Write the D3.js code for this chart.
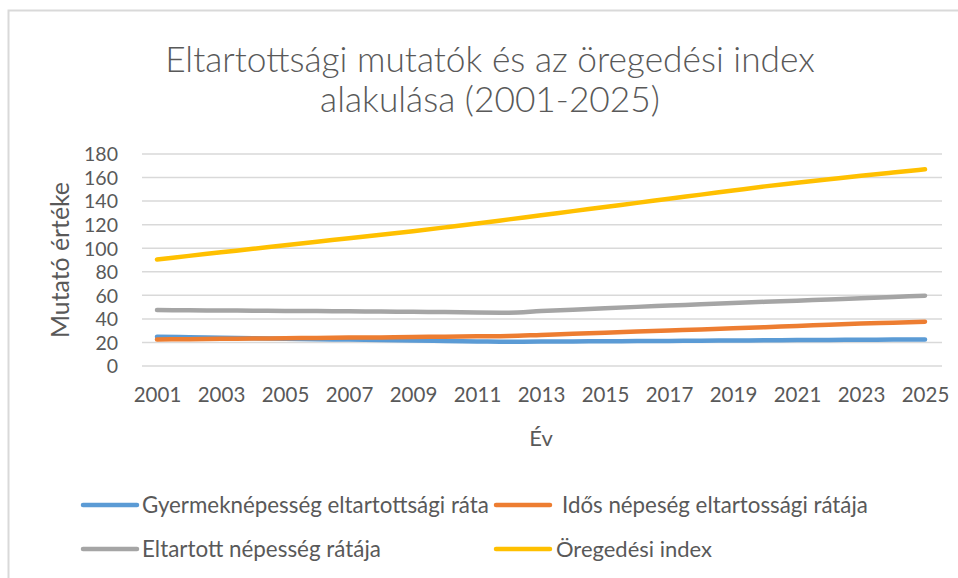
<!DOCTYPE html>
<html>
<head>
<meta charset="utf-8">
<script src="https://cdn.jsdelivr.net/npm/d3@7"></script>
<style>
  html, body { margin: 0; padding: 0; background: #fff; }
  svg { display: block; }
  text { font-family: Lato, "Open Sans", sans-serif; fill: #595959; }
</style>
</head>
<body>
<svg id="chart" width="958" height="578"></svg>
<script>
const years = [2001,2002,2003,2004,2005,2006,2007,2008,2009,2010,2011,2012,2013,2014,2015,2016,2017,2018,2019,2020,2021,2022,2023,2024,2025];
const gyermek = [24.9,24.4,24.0,23.6,23.2,22.8,22.4,22.0,21.6,21.2,20.9,20.6,20.7,20.9,21.0,21.2,21.3,21.5,21.7,21.8,22.0,22.1,22.3,22.4,22.6];
const idos = [22.6,22.8,23.1,23.3,23.6,23.8,24.1,24.3,24.6,24.9,25.2,25.5,26.4,27.3,28.3,29.2,30.1,31.0,32.0,33.0,34.0,35.0,36.0,36.8,37.6];
const eltartott = [47.5,47.3,47.1,47.0,46.8,46.6,46.4,46.2,46.0,45.8,45.5,45.3,46.6,47.8,49.0,50.2,51.3,52.4,53.5,54.5,55.5,56.5,57.5,58.6,59.7];
const oregedesi = [90.5,93.5,96.5,99.5,102.5,105.5,108.5,111.5,114.5,117.7,121.0,124.5,128.0,131.5,135.0,138.5,142.0,145.5,149.0,152.5,155.5,158.5,161.5,164.3,167.0];
const yTicks = [0,20,40,60,80,100,120,140,160,180];
const xTickYears = [2001,2003,2005,2007,2009,2011,2013,2015,2017,2019,2021,2023,2025];
const seriesNames = ["Gyermeknépesség eltartottsági ráta","Idős népeség eltartossági rátája","Eltartott népesség rátája","Öregedési index"];
const seriesColors = ["#5B9BD5","#ED7D31","#A5A5A5","#FFC000"];
const titleLines = ["Eltartottsági mutatók és az öregedési index","alakulása (2001-2025)"];
const yLabel = "Mutató értéke";
const xLabel = "Év";

const svg = d3.select("#chart");

function fit(sel, targetW, startSize) {
  sel.style("font-size", startSize + "px");
  const w = sel.node().getComputedTextLength();
  sel.style("font-size", (startSize * targetW / w).toFixed(2) + "px");
}

// Chart border
svg.append("path").attr("d", "M8.5,578 L8.5,10.5 L958,10.5")
  .attr("fill", "none").attr("stroke", "#D9D9D9").attr("stroke-width", 2);

const x = d3.scalePoint().domain(years).range([157, 925]);
const y = d3.scaleLinear().domain([0, 180]).range([366, 154]);
const plotL = 142, plotR = 942;

// gridlines
svg.append("g").selectAll("line").data(yTicks).join("line")
  .attr("x1", plotL).attr("x2", plotR)
  .attr("y1", d => y(d)).attr("y2", d => y(d))
  .attr("stroke", "#D9D9D9").attr("stroke-width", 1.5);

// y axis labels
const yAxis = d3.axisLeft(y).tickValues(yTicks).tickSize(0).tickPadding(0);
const gy = svg.append("g").attr("transform", "translate(118,0)").call(yAxis);
gy.select(".domain").remove();
gy.selectAll("text").style("font-size", "19.5px").attr("fill", "#595959")
  .style("font-family", "Lato, sans-serif").attr("dy", "0.35em");

// x axis labels
const xAxis = d3.axisBottom(x).tickValues(xTickYears).tickSize(0).tickPadding(0).tickFormat(d3.format("d"));
const gx = svg.append("g").attr("transform", "translate(0,387)").call(xAxis);
gx.select(".domain").remove();
gx.selectAll("text").style("font-size", "20.5px").attr("fill", "#595959")
  .style("font-family", "Lato, sans-serif").attr("dy", "0.72em");

// lines
const allSeries = [gyermek, idos, eltartott, oregedesi];
const line = d3.line().x((d, i) => x(years[i])).y(d => y(d)).curve(d3.curveMonotoneX);
allSeries.forEach((s, k) => {
  svg.append("path").datum(s).attr("d", line)
    .attr("fill", "none").attr("stroke", seriesColors[k]).attr("stroke-width", 4.5)
    .attr("stroke-linecap", "round").attr("stroke-linejoin", "round");
});

// title
const t1 = svg.append("text").attr("x", 490).attr("y", 72).attr("text-anchor", "middle").text(titleLines[0]).style("font-weight", 300);
fit(t1, 650, 30);
const t2 = svg.append("text").attr("x", 490).attr("y", 112).attr("text-anchor", "middle").text(titleLines[1]).style("font-weight", 300);
t2.style("font-size", t1.style("font-size"));

// y label
const yl = svg.append("text").attr("transform", "translate(69,260) rotate(-90)")
  .attr("text-anchor", "middle").text(yLabel);
fit(yl, 156, 22);

// x label
svg.append("text").attr("x", 541).attr("y", 446).attr("text-anchor", "middle")
  .style("font-size", "22px").text(xLabel);

// legend
const legendPos = [[83, 505, 142, 347], [496, 505, 562, 306], [83, 549, 142, 239], [496, 549, 556, 156]];
seriesNames.forEach((name, k) => {
  const [lx, ly, tx, tw] = legendPos[k];
  svg.append("line").attr("x1", lx).attr("x2", lx + 54).attr("y1", ly).attr("y2", ly)
    .attr("stroke", seriesColors[k]).attr("stroke-width", 4.5).attr("stroke-linecap", "round");
  const t = svg.append("text").attr("x", tx).attr("y", ly).attr("dy", "0.35em").text(name);
  fit(t, tw, 19);
});
</script>
</body>
</html>
